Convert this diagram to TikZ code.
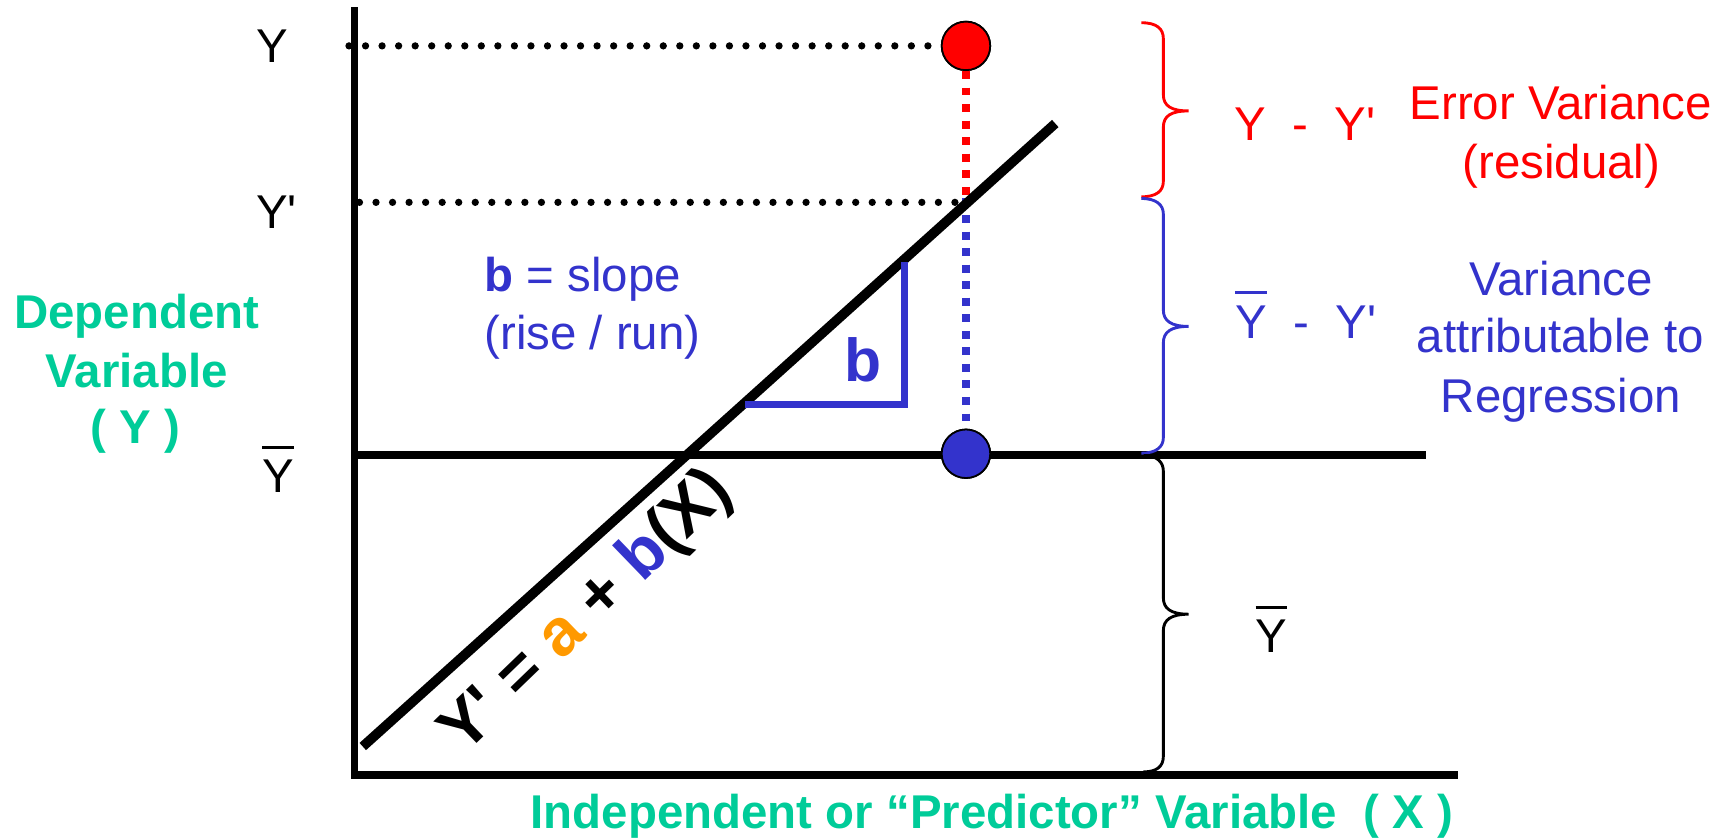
\documentclass[tikz,border=0pt]{standalone}
\usepackage{fontspec}
\setmainfont{Liberation Sans}
\definecolor{grn}{HTML}{00CC99}
\definecolor{blu}{HTML}{3333CC}
\definecolor{org}{HTML}{FF9900}
\definecolor{rd}{HTML}{FF0000}
\newcommand\ybar{\leavevmode\vbox{\hrule height 1.5pt\kern 5pt\hbox{Y}}}
\newcommand\yq{Y\textquotesingle}
\tikzset{
  lbl/.style={inner sep=0pt, font=\fontsize{21.5}{25}\selectfont, anchor=base},
  glbl/.style={lbl, font=\bfseries\fontsize{21.5}{25}\selectfont, text=grn},
  axisline/.style={line width=3.6pt},
  dotline/.style={line width=3.3pt, line cap=round, dash pattern=on 0pt off 7.5pt},
  dashv/.style={line width=3.6pt, dash pattern=on 3.6pt off 3.9pt},
  bracepath/.style={line width=1.3pt},
  datapt/.style={circle, draw=black, line width=0.8pt, minimum size=22pt, inner sep=0pt},
}
\begin{document}
\begin{tikzpicture}[x=0.5pt,y=-0.5pt]
\useasboundingbox (0,0) rectangle (1568,761);
% coordinates
\coordinate (ytop) at (321.5,6.7);
\coordinate (orig) at (321.5,703);
\coordinate (xend) at (1322,703);
\coordinate (mstart) at (321.5,412.5);
\coordinate (mend) at (1293,412.5);
\coordinate (rstart) at (329,677);
\coordinate (rend) at (957,112);
\coordinate (ydot0) at (316.5,41.6);
\coordinate (ypdot0) at (326,183.5);
\coordinate (ypdot1) at (872,183.5);
\coordinate (cross) at (876,180);
\coordinate (tri1) at (676,367);
\coordinate (tri2) at (820,367);
\coordinate (tri3) at (820,237.4);
% data points
\node[datapt, fill=rd] (yobs) at (876,41.6) {};
\node[datapt, fill=blu] (ymean) at (876,411.5) {};
% dotted guides
\draw[dotline] (ydot0) -- (yobs.west);
\draw[dotline] (ypdot0) -- (ypdot1);
\draw[dashv, rd] (yobs.south) -- (cross);
\draw[dashv, blu] (cross) -- (ymean.north);
% axes and lines
\draw[axisline] (ytop) -- (orig) -- (xend);
\draw[axisline] (mstart) -- (mend);
\draw[line width=4.4pt] (rstart) -- (rend);
\draw[line width=3.2pt, blu] (tri1) -- (tri2) -- (tri3);
% redraw dots on top
\node[datapt, fill=rd] at (yobs) {};
\node[datapt, fill=blu] at (ymean) {};
% braces
\draw[bracepath, rd] (1035,20.6) .. controls (1049,20.6) and (1055,26) .. (1055,35)
  -- (1055,85.6) .. controls (1055,96) and (1062,100.6) .. (1078,100.6)
  .. controls (1062,100.6) and (1055,105) .. (1055,115.6)
  -- (1055,164.5) .. controls (1055,173) and (1049,178.5) .. (1035,178.5);
\draw[bracepath, blu] (1035,180) .. controls (1049,180) and (1055,186) .. (1055,194)
  -- (1055,281) .. controls (1055,291) and (1062,296) .. (1078,296)
  .. controls (1062,296) and (1055,301) .. (1055,311)
  -- (1055,397) .. controls (1055,405) and (1049,411) .. (1035,411);
\draw[bracepath] (1037,413) .. controls (1049,413) and (1055,419) .. (1055,427)
  -- (1055,542) .. controls (1055,552) and (1062,557) .. (1078,557)
  .. controls (1062,557) and (1055,562) .. (1055,572)
  -- (1055,686) .. controls (1055,695) and (1049,700) .. (1037,700);
% left labels
\node[lbl] (ly) at (247,57) {Y};
\node[lbl, anchor=base west] (lyp) at (232,207) {\yq};
\node[lbl] (lyb) at (252,447) {\ybar};
\node[glbl] (dep1) at (124,298) {Dependent};
\node[glbl] (dep2) at (124,351) {Variable};
\node[glbl] (dep3) at (123,402) {( Y )};
% slope
\node[lbl, anchor=base west, text=blu] (slope1) at (439,264.5) {{\bfseries b} = slope};
\node[lbl, anchor=base west, text=blu] (slope2) at (439,317) {(rise / run)};
\node[inner sep=0pt, font=\bfseries\fontsize{27.5}{30}\selectfont, text=blu] (bsym) at (783,326) {b};
% equation
\node[inner sep=0pt, anchor=base, rotate=44, font=\bfseries\fontsize{30}{32}\selectfont] (eqn) at (543.5,567)
  {\yq{} = {\color{org}a} + {\color{blu}b}(X)};
% right labels
\node[lbl, anchor=base west, text=rd] (res) at (1119,127) {Y~~-~~\yq};
\node[lbl, text=rd] (err1) at (1415.5,108) {Error Variance};
\node[lbl, text=rd] (err2) at (1416,162) {(residual)};
\node[lbl, anchor=base west, text=blu] (reg) at (1120,306.6) {\ybar~~-~~\yq};
\node[lbl, text=blu] (var1) at (1415.7,267.6) {Variance};
\node[lbl, text=blu] (var2) at (1415,320) {attributable to};
\node[lbl, text=blu] (var3) at (1415.5,374) {Regression};
\node[lbl] (mean) at (1153,592) {\ybar};
% x axis label
\node[glbl] (xlab) at (899.5,751) {Independent or “Predictor” Variable~~( X )};
\end{tikzpicture}
\end{document}
